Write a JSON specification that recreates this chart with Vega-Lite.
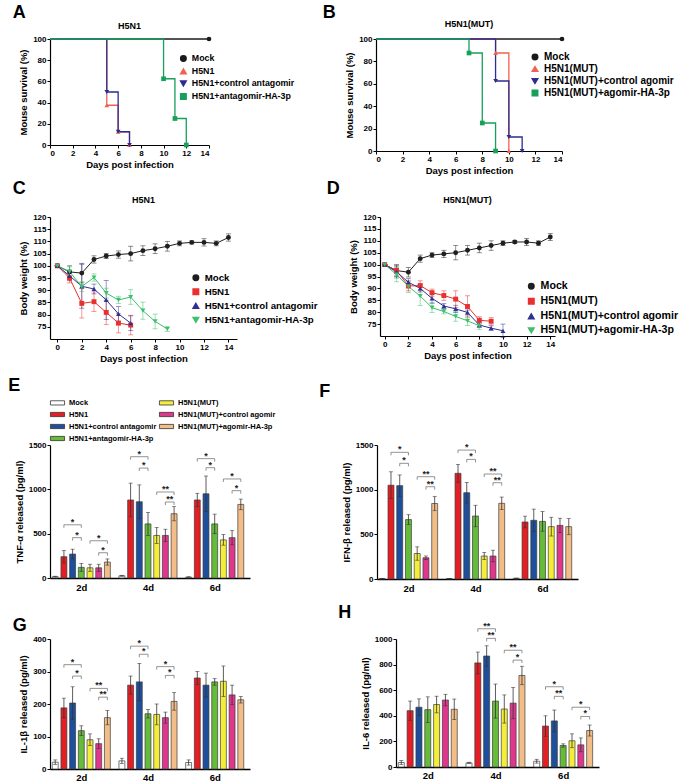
{
"$schema":"https://vega.github.io/schema/vega-lite/v6.json",
"padding":{"left":8,"top":4,"right":2,"bottom":0},
"config":{
 "font":"Liberation Sans",
 "view":{"stroke":null},
 "scale":{"nice":false},
 "axis":{"labelFontWeight":"bold","labelFontSize":8,"titleFontSize":9.5,"titleFontWeight":"bold","domainColor":"#000","tickColor":"#000","labelColor":"#000","titleColor":"#000","grid":false,"domainWidth":1.2,"tickWidth":1,"tickSize":3,"labelPadding":1,"titlePadding":4,"labelOverlap":false,"format":"d"},
 "axisX":{"titlePadding":2},
 "legend":{"labelFontWeight":"bold","labelFontSize":9,"labelColor":"#000","labelFont":"Liberation Sans","symbolOpacity":1},
 "title":{"font":"Liberation Sans","fontWeight":"bold","fontSize":9,"color":"#000"}
},
"datasets":{
 "survA":[
  {"g":"Mock","d":0,"s":100},{"g":"Mock","d":14,"s":100},
  {"g":"H5N1","d":0,"s":100},{"g":"H5N1","d":5,"s":37.5},{"g":"H5N1","d":6,"s":12.5},{"g":"H5N1","d":7,"s":0},
  {"g":"H5N1+control antagomir","d":0,"s":100},{"g":"H5N1+control antagomir","d":5,"s":50},{"g":"H5N1+control antagomir","d":6,"s":12.5},{"g":"H5N1+control antagomir","d":7,"s":0},
  {"g":"H5N1+antagomir-HA-3p","d":0,"s":100},{"g":"H5N1+antagomir-HA-3p","d":10,"s":62.5},{"g":"H5N1+antagomir-HA-3p","d":11,"s":25},{"g":"H5N1+antagomir-HA-3p","d":12,"s":0}
 ],
 "survB":[
  {"g":"Mock","d":0,"s":100},{"g":"Mock","d":14,"s":100},
  {"g":"H5N1(MUT)","d":0,"s":100},{"g":"H5N1(MUT)","d":9,"s":87.5},{"g":"H5N1(MUT)","d":10,"s":0},
  {"g":"H5N1(MUT)+control agomir","d":0,"s":100},{"g":"H5N1(MUT)+control agomir","d":9,"s":62.5},{"g":"H5N1(MUT)+control agomir","d":10,"s":12.5},{"g":"H5N1(MUT)+control agomir","d":11,"s":0},
  {"g":"H5N1(MUT)+agomir-HA-3p","d":0,"s":100},{"g":"H5N1(MUT)+agomir-HA-3p","d":7,"s":87.5},{"g":"H5N1(MUT)+agomir-HA-3p","d":8,"s":25},{"g":"H5N1(MUT)+agomir-HA-3p","d":9,"s":0}
 ],
 "wC":[
  {"g":"Mock","d":0,"v":100,"e":0},{"g":"Mock","d":1,"v":97.5,"e":2.5},{"g":"Mock","d":2,"v":97,"e":4},{"g":"Mock","d":3,"v":102.6,"e":1.5},{"g":"Mock","d":4,"v":104,"e":1},{"g":"Mock","d":5,"v":104.6,"e":1.5},{"g":"Mock","d":6,"v":105,"e":3},{"g":"Mock","d":7,"v":106.2,"e":2},{"g":"Mock","d":8,"v":107,"e":2},{"g":"Mock","d":9,"v":108,"e":2},{"g":"Mock","d":10,"v":109.2,"e":1},{"g":"Mock","d":11,"v":109.6,"e":0.6},{"g":"Mock","d":12,"v":109.6,"e":1.5},{"g":"Mock","d":13,"v":109.2,"e":1},{"g":"Mock","d":14,"v":111.6,"e":1.5},
  {"g":"H5N1","d":0,"v":100,"e":0},{"g":"H5N1","d":1,"v":95,"e":2},{"g":"H5N1","d":2,"v":84.6,"e":6},{"g":"H5N1","d":3,"v":85.3,"e":4},{"g":"H5N1","d":4,"v":80.9,"e":5},{"g":"H5N1","d":5,"v":76.5,"e":4},{"g":"H5N1","d":6,"v":75.7,"e":4},
  {"g":"H5N1+control antagomir","d":0,"v":100,"e":0},{"g":"H5N1+control antagomir","d":1,"v":95.9,"e":2},{"g":"H5N1+control antagomir","d":2,"v":91.6,"e":9},{"g":"H5N1+control antagomir","d":3,"v":90.5,"e":2},{"g":"H5N1+control antagomir","d":4,"v":86,"e":8},{"g":"H5N1+control antagomir","d":5,"v":80.3,"e":3},{"g":"H5N1+control antagomir","d":6,"v":76.5,"e":3},
  {"g":"H5N1+antagomir-HA-3p","d":0,"v":100,"e":0},{"g":"H5N1+antagomir-HA-3p","d":1,"v":97.6,"e":2},{"g":"H5N1+antagomir-HA-3p","d":2,"v":91.5,"e":2},{"g":"H5N1+antagomir-HA-3p","d":3,"v":95.2,"e":1.5},{"g":"H5N1+antagomir-HA-3p","d":4,"v":88.8,"e":2},{"g":"H5N1+antagomir-HA-3p","d":5,"v":86,"e":1.5},{"g":"H5N1+antagomir-HA-3p","d":6,"v":87.2,"e":3},{"g":"H5N1+antagomir-HA-3p","d":7,"v":81.6,"e":3.5},{"g":"H5N1+antagomir-HA-3p","d":8,"v":77.2,"e":3},{"g":"H5N1+antagomir-HA-3p","d":9,"v":74.1,"e":1}
 ],
 "wD":[
  {"g":"Mock","d":0,"v":100,"e":0},{"g":"Mock","d":1,"v":97.5,"e":2.5},{"g":"Mock","d":2,"v":96.8,"e":2},{"g":"Mock","d":3,"v":102.5,"e":1.5},{"g":"Mock","d":4,"v":104,"e":1},{"g":"Mock","d":5,"v":104.5,"e":1.5},{"g":"Mock","d":6,"v":105,"e":3},{"g":"Mock","d":7,"v":106,"e":2},{"g":"Mock","d":8,"v":107,"e":2},{"g":"Mock","d":9,"v":108,"e":2},{"g":"Mock","d":10,"v":109,"e":1},{"g":"Mock","d":11,"v":109.5,"e":0.6},{"g":"Mock","d":12,"v":109.5,"e":1.5},{"g":"Mock","d":13,"v":109,"e":1},{"g":"Mock","d":14,"v":111.6,"e":1.5},
  {"g":"H5N1(MUT)","d":0,"v":100,"e":0},{"g":"H5N1(MUT)","d":1,"v":97.5,"e":2},{"g":"H5N1(MUT)","d":2,"v":91,"e":2},{"g":"H5N1(MUT)","d":3,"v":91.2,"e":2},{"g":"H5N1(MUT)","d":4,"v":88.2,"e":1.5},{"g":"H5N1(MUT)","d":5,"v":87,"e":2},{"g":"H5N1(MUT)","d":6,"v":85.5,"e":3.5},{"g":"H5N1(MUT)","d":7,"v":82.4,"e":4.5},{"g":"H5N1(MUT)","d":8,"v":76.6,"e":1.5},{"g":"H5N1(MUT)","d":9,"v":76.2,"e":1.5},
  {"g":"H5N1(MUT)+control agomir","d":0,"v":100,"e":0},{"g":"H5N1(MUT)+control agomir","d":1,"v":96.9,"e":2.5},{"g":"H5N1(MUT)+control agomir","d":2,"v":92.6,"e":1.5},{"g":"H5N1(MUT)+control agomir","d":3,"v":90,"e":1.5},{"g":"H5N1(MUT)+control agomir","d":4,"v":85.8,"e":2},{"g":"H5N1(MUT)+control agomir","d":5,"v":82.6,"e":1},{"g":"H5N1(MUT)+control agomir","d":6,"v":81.4,"e":1.5},{"g":"H5N1(MUT)+control agomir","d":7,"v":79.9,"e":1},{"g":"H5N1(MUT)+control agomir","d":8,"v":74.6,"e":1},{"g":"H5N1(MUT)+control agomir","d":9,"v":73.3,"e":1},{"g":"H5N1(MUT)+control agomir","d":10,"v":72.2,"e":2.8},
  {"g":"H5N1(MUT)+agomir-HA-3p","d":0,"v":100,"e":0},{"g":"H5N1(MUT)+agomir-HA-3p","d":1,"v":95.8,"e":3},{"g":"H5N1(MUT)+agomir-HA-3p","d":2,"v":90.8,"e":2.5},{"g":"H5N1(MUT)+agomir-HA-3p","d":3,"v":86.8,"e":4},{"g":"H5N1(MUT)+agomir-HA-3p","d":4,"v":81.9,"e":2},{"g":"H5N1(MUT)+agomir-HA-3p","d":5,"v":80.3,"e":1},{"g":"H5N1(MUT)+agomir-HA-3p","d":6,"v":78.2,"e":2},{"g":"H5N1(MUT)+agomir-HA-3p","d":7,"v":76.4,"e":2},{"g":"H5N1(MUT)+agomir-HA-3p","d":8,"v":74.3,"e":1.5}
 ],
 "bars":[
  {"p":"E","day":"2d","g":"Mock","v":15,"e":5},{"p":"E","day":"2d","g":"H5N1","v":240,"e":70},{"p":"E","day":"2d","g":"H5N1+control antagomir","v":270,"e":55},{"p":"E","day":"2d","g":"H5N1+antagomir-HA-3p","v":120,"e":45},{"p":"E","day":"2d","g":"H5N1(MUT)","v":115,"e":40},{"p":"E","day":"2d","g":"H5N1(MUT)+control agomir","v":115,"e":40},{"p":"E","day":"2d","g":"H5N1(MUT)+agomir-HA-3p","v":180,"e":35},
  {"p":"E","day":"4d","g":"Mock","v":25,"e":5},{"p":"E","day":"4d","g":"H5N1","v":880,"e":190},{"p":"E","day":"4d","g":"H5N1+control antagomir","v":860,"e":190},{"p":"E","day":"4d","g":"H5N1+antagomir-HA-3p","v":610,"e":130},{"p":"E","day":"4d","g":"H5N1(MUT)","v":480,"e":90},{"p":"E","day":"4d","g":"H5N1(MUT)+control agomir","v":480,"e":70},{"p":"E","day":"4d","g":"H5N1(MUT)+agomir-HA-3p","v":725,"e":80},
  {"p":"E","day":"6d","g":"Mock","v":10,"e":4},{"p":"E","day":"6d","g":"H5N1","v":880,"e":75},{"p":"E","day":"6d","g":"H5N1+control antagomir","v":950,"e":200},{"p":"E","day":"6d","g":"H5N1+antagomir-HA-3p","v":610,"e":110},{"p":"E","day":"6d","g":"H5N1(MUT)","v":430,"e":60},{"p":"E","day":"6d","g":"H5N1(MUT)+control agomir","v":455,"e":80},{"p":"E","day":"6d","g":"H5N1(MUT)+agomir-HA-3p","v":830,"e":60},
  {"p":"F","day":"2d","g":"Mock","v":4,"e":0},{"p":"F","day":"2d","g":"H5N1","v":1050,"e":150},{"p":"F","day":"2d","g":"H5N1+control antagomir","v":1045,"e":120},{"p":"F","day":"2d","g":"H5N1+antagomir-HA-3p","v":665,"e":55},{"p":"F","day":"2d","g":"H5N1(MUT)","v":285,"e":75},{"p":"F","day":"2d","g":"H5N1(MUT)+control agomir","v":238,"e":20},{"p":"F","day":"2d","g":"H5N1(MUT)+agomir-HA-3p","v":845,"e":80},
  {"p":"F","day":"4d","g":"Mock","v":4,"e":0},{"p":"F","day":"4d","g":"H5N1","v":1183,"e":100},{"p":"F","day":"4d","g":"H5N1+control antagomir","v":966,"e":115},{"p":"F","day":"4d","g":"H5N1+antagomir-HA-3p","v":705,"e":120},{"p":"F","day":"4d","g":"H5N1(MUT)","v":257,"e":40},{"p":"F","day":"4d","g":"H5N1(MUT)+control agomir","v":257,"e":65},{"p":"F","day":"4d","g":"H5N1(MUT)+agomir-HA-3p","v":847,"e":70},
  {"p":"F","day":"6d","g":"Mock","v":8,"e":2},{"p":"F","day":"6d","g":"H5N1","v":638,"e":65},{"p":"F","day":"6d","g":"H5N1+control antagomir","v":657,"e":125},{"p":"F","day":"6d","g":"H5N1+antagomir-HA-3p","v":645,"e":110},{"p":"F","day":"6d","g":"H5N1(MUT)","v":586,"e":105},{"p":"F","day":"6d","g":"H5N1(MUT)+control agomir","v":600,"e":80},{"p":"F","day":"6d","g":"H5N1(MUT)+agomir-HA-3p","v":586,"e":90},
  {"p":"G","day":"2d","g":"Mock","v":21,"e":7},{"p":"G","day":"2d","g":"H5N1","v":188,"e":30},{"p":"G","day":"2d","g":"H5N1+control antagomir","v":203,"e":50},{"p":"G","day":"2d","g":"H5N1+antagomir-HA-3p","v":118,"e":15},{"p":"G","day":"2d","g":"H5N1(MUT)","v":90,"e":18},{"p":"G","day":"2d","g":"H5N1(MUT)+control agomir","v":78,"e":15},{"p":"G","day":"2d","g":"H5N1(MUT)+agomir-HA-3p","v":158,"e":22},
  {"p":"G","day":"4d","g":"Mock","v":25,"e":8},{"p":"G","day":"4d","g":"H5N1","v":258,"e":28},{"p":"G","day":"4d","g":"H5N1+control antagomir","v":268,"e":57},{"p":"G","day":"4d","g":"H5N1+antagomir-HA-3p","v":170,"e":13},{"p":"G","day":"4d","g":"H5N1(MUT)","v":168,"e":32},{"p":"G","day":"4d","g":"H5N1(MUT)+control agomir","v":158,"e":17},{"p":"G","day":"4d","g":"H5N1(MUT)+agomir-HA-3p","v":208,"e":27},
  {"p":"G","day":"6d","g":"Mock","v":20,"e":8},{"p":"G","day":"6d","g":"H5N1","v":280,"e":20},{"p":"G","day":"6d","g":"H5N1+control antagomir","v":258,"e":37},{"p":"G","day":"6d","g":"H5N1+antagomir-HA-3p","v":268,"e":10},{"p":"G","day":"6d","g":"H5N1(MUT)","v":270,"e":47},{"p":"G","day":"6d","g":"H5N1(MUT)+control agomir","v":228,"e":30},{"p":"G","day":"6d","g":"H5N1(MUT)+agomir-HA-3p","v":213,"e":10},
  {"p":"H","day":"2d","g":"Mock","v":35,"e":15},{"p":"H","day":"2d","g":"H5N1","v":440,"e":75},{"p":"H","day":"2d","g":"H5N1+control antagomir","v":467,"e":65},{"p":"H","day":"2d","g":"H5N1+antagomir-HA-3p","v":448,"e":100},{"p":"H","day":"2d","g":"H5N1(MUT)","v":488,"e":65},{"p":"H","day":"2d","g":"H5N1(MUT)+control agomir","v":523,"e":45},{"p":"H","day":"2d","g":"H5N1(MUT)+agomir-HA-3p","v":451,"e":80},
  {"p":"H","day":"4d","g":"Mock","v":32,"e":5},{"p":"H","day":"4d","g":"H5N1","v":813,"e":85},{"p":"H","day":"4d","g":"H5N1+control antagomir","v":867,"e":80},{"p":"H","day":"4d","g":"H5N1+antagomir-HA-3p","v":515,"e":133},{"p":"H","day":"4d","g":"H5N1(MUT)","v":453,"e":110},{"p":"H","day":"4d","g":"H5N1(MUT)+control agomir","v":499,"e":122},{"p":"H","day":"4d","g":"H5N1(MUT)+agomir-HA-3p","v":715,"e":72},
  {"p":"H","day":"6d","g":"Mock","v":45,"e":15},{"p":"H","day":"6d","g":"H5N1","v":320,"e":80},{"p":"H","day":"6d","g":"H5N1+control antagomir","v":360,"e":85},{"p":"H","day":"6d","g":"H5N1+antagomir-HA-3p","v":168,"e":13},{"p":"H","day":"6d","g":"H5N1(MUT)","v":205,"e":54},{"p":"H","day":"6d","g":"H5N1(MUT)+control agomir","v":173,"e":54},{"p":"H","day":"6d","g":"H5N1(MUT)+agomir-HA-3p","v":285,"e":43}
 ],
 "brk":[
  {"p":"E","day":"2d","from":"H","to":"HA","y":600,"lab":"*"},{"p":"E","day":"2d","from":"HC","to":"HA","y":455,"lab":"*"},{"p":"E","day":"2d","from":"M","to":"MA","y":420,"lab":"*"},{"p":"E","day":"2d","from":"MC","to":"MA","y":285,"lab":"*"},
  {"p":"E","day":"4d","from":"H","to":"HA","y":1368,"lab":"*"},{"p":"E","day":"4d","from":"HC","to":"HA","y":1240,"lab":"*"},{"p":"E","day":"4d","from":"M","to":"MA","y":970,"lab":"**"},{"p":"E","day":"4d","from":"MC","to":"MA","y":857,"lab":"**"},
  {"p":"E","day":"6d","from":"H","to":"HA","y":1346,"lab":"*"},{"p":"E","day":"6d","from":"HC","to":"HA","y":1244,"lab":"*"},{"p":"E","day":"6d","from":"M","to":"MA","y":1117,"lab":"*"},{"p":"E","day":"6d","from":"MC","to":"MA","y":985,"lab":"*"},
  {"p":"F","day":"2d","from":"H","to":"HA","y":1418,"lab":"*"},{"p":"F","day":"2d","from":"HC","to":"HA","y":1295,"lab":"*"},{"p":"F","day":"2d","from":"M","to":"MA","y":1145,"lab":"**"},{"p":"F","day":"2d","from":"MC","to":"MA","y":1033,"lab":"**"},
  {"p":"F","day":"4d","from":"H","to":"HA","y":1443,"lab":"*"},{"p":"F","day":"4d","from":"HC","to":"HA","y":1339,"lab":"*"},{"p":"F","day":"4d","from":"M","to":"MA","y":1175,"lab":"**"},{"p":"F","day":"4d","from":"MC","to":"MA","y":1078,"lab":"**"},
  {"p":"G","day":"2d","from":"H","to":"HA","y":321,"lab":"*"},{"p":"G","day":"2d","from":"HC","to":"HA","y":286,"lab":"*"},{"p":"G","day":"2d","from":"M","to":"MA","y":248,"lab":"**"},{"p":"G","day":"2d","from":"MC","to":"MA","y":221,"lab":"**"},
  {"p":"G","day":"4d","from":"H","to":"HA","y":378,"lab":"*"},{"p":"G","day":"4d","from":"HC","to":"HA","y":353,"lab":"*"},{"p":"G","day":"4d","from":"M","to":"MA","y":315,"lab":"*"},{"p":"G","day":"4d","from":"MC","to":"MA","y":288,"lab":"*"},
  {"p":"H","day":"4d","from":"H","to":"HA","y":1080,"lab":"**"},{"p":"H","day":"4d","from":"HC","to":"HA","y":1005,"lab":"**"},{"p":"H","day":"4d","from":"M","to":"MA","y":912,"lab":"**"},{"p":"H","day":"4d","from":"MC","to":"MA","y":835,"lab":"*"},
  {"p":"H","day":"6d","from":"H","to":"HA","y":627,"lab":"*"},{"p":"H","day":"6d","from":"HC","to":"HA","y":552,"lab":"**"},{"p":"H","day":"6d","from":"M","to":"MA","y":467,"lab":"*"},{"p":"H","day":"6d","from":"MC","to":"MA","y":395,"lab":"*"}
 ]
},
"resolve":{"scale":{"color":"independent","shape":"independent"},"legend":{"color":"independent","shape":"independent"}},
"spacing":14,
"vconcat":[
{"resolve":{"scale":{"color":"independent","shape":"independent"},"legend":{"color":"independent","shape":"independent"}},"spacing":5,"vconcat":[
 {"resolve":{"scale":{"color":"independent","shape":"independent"},"legend":{"color":"independent","shape":"independent"}},"spacing":27,"hconcat":[
  {"resolve":{"scale":{"color":"independent","shape":"independent"},"legend":{"color":"independent","shape":"independent"}},"title":{"text":"A","anchor":"start","fontSize":18,"frame":"bounds","offset":0,"dx":-6},"vconcat":[
   {"width":159,"height":106,"title":{"text":"H5N1","offset":4},"data":{"name":"survA"},
    "layer":[
     {"mark":{"type":"line","interpolate":"step-after","strokeWidth":1.3},"encoding":{
      "x":{"field":"d","type":"quantitative","scale":{"domain":[0,14],"nice":false},"axis":{"values":[0,2,4,6,8,10,12,14],"tickCount":20,"title":"Days post infection","labelOverlap":false}},
      "y":{"field":"s","type":"quantitative","scale":{"domain":[0,100],"nice":false},"axis":{"values":[0,20,40,60,80,100],"tickCount":20,"title":"Mouse survival (%)","labelOverlap":false}},
      "color":{"field":"g","type":"nominal","scale":{"domain":["Mock","H5N1","H5N1+control antagomir","H5N1+antagomir-HA-3p"],"range":["#1a1a1a","#f2604f","#2b2d8f","#16a05a"]},"legend":{"title":null,"orient":"none","legendX":129,"legendY":15,"symbolSize":30,"rowPadding":1,"labelFontSize":8.8}}}},
     {"transform":[{"filter":"datum.d>0"}],"mark":{"type":"point","filled":true,"size":22,"opacity":1},"encoding":{
      "x":{"field":"d","type":"quantitative"},"y":{"field":"s","type":"quantitative"},
      "color":{"field":"g","type":"nominal","scale":{"domain":["Mock","H5N1","H5N1+control antagomir","H5N1+antagomir-HA-3p"],"range":["#1a1a1a","#f2604f","#2b2d8f","#16a05a"]},"legend":{"title":null,"orient":"none","legendX":129,"legendY":15,"symbolSize":30,"rowPadding":1,"labelFontSize":8.8}},
      "shape":{"field":"g","type":"nominal","scale":{"domain":["Mock","H5N1","H5N1+control antagomir","H5N1+antagomir-HA-3p"],"range":["circle","triangle-up","triangle-down","square"]},"legend":{"title":null,"orient":"none","legendX":129,"legendY":15,"symbolSize":30,"rowPadding":1,"labelFontSize":8.8}}}}
    ]}
  ]},
  {"resolve":{"scale":{"color":"independent","shape":"independent"},"legend":{"color":"independent","shape":"independent"}},"title":{"text":"B","anchor":"start","fontSize":18,"frame":"bounds","offset":-2,"dx":-22},"vconcat":[
   {"width":186,"height":112,"title":{"text":"H5N1(MUT)","offset":6},"data":{"name":"survB"},
    "layer":[
     {"mark":{"type":"line","interpolate":"step-after","strokeWidth":1.3},"encoding":{
      "x":{"field":"d","type":"quantitative","scale":{"domain":[0,14],"nice":false},"axis":{"values":[0,2,4,6,8,10,12,14],"tickCount":20,"title":"Days post infection","labelOverlap":false}},
      "y":{"field":"s","type":"quantitative","scale":{"domain":[0,100],"nice":false},"axis":{"values":[0,20,40,60,80,100],"tickCount":20,"title":"Mouse survival (%)","labelOverlap":false}},
      "color":{"field":"g","type":"nominal","scale":{"domain":["Mock","H5N1(MUT)","H5N1(MUT)+control agomir","H5N1(MUT)+agomir-HA-3p"],"range":["#1a1a1a","#f2604f","#2b2d8f","#16a05a"]},"legend":{"title":null,"orient":"none","legendX":154,"legendY":13,"symbolSize":30,"rowPadding":0,"labelFontSize":10}}}},
     {"transform":[{"filter":"datum.d>0"}],"mark":{"type":"point","filled":true,"size":22,"opacity":1},"encoding":{
      "x":{"field":"d","type":"quantitative"},"y":{"field":"s","type":"quantitative"},
      "color":{"field":"g","type":"nominal","scale":{"domain":["Mock","H5N1(MUT)","H5N1(MUT)+control agomir","H5N1(MUT)+agomir-HA-3p"],"range":["#1a1a1a","#f2604f","#2b2d8f","#16a05a"]},"legend":{"title":null,"orient":"none","legendX":154,"legendY":13,"symbolSize":30,"rowPadding":0,"labelFontSize":10}},
      "shape":{"field":"g","type":"nominal","scale":{"domain":["Mock","H5N1(MUT)","H5N1(MUT)+control agomir","H5N1(MUT)+agomir-HA-3p"],"range":["circle","triangle-up","triangle-down","square"]},"legend":{"title":null,"orient":"none","legendX":154,"legendY":13,"symbolSize":30,"rowPadding":0,"labelFontSize":10}}}}
    ]}
  ]}
 ]},
 {"resolve":{"scale":{"color":"independent","shape":"independent"},"legend":{"color":"independent","shape":"independent"}},"spacing":8,"hconcat":[
  {"resolve":{"scale":{"color":"independent","shape":"independent"},"legend":{"color":"independent","shape":"independent"}},"title":{"text":"C","anchor":"start","fontSize":18,"frame":"bounds","offset":-2,"dx":-6},"vconcat":[
   {"width":187,"height":122,"title":{"text":"H5N1","offset":8},"data":{"name":"wC"},
    "transform":[{"calculate":"datum.v-datum.e","as":"lo"},{"calculate":"datum.v+datum.e","as":"hi"}],
    "layer":[
     {"mark":{"type":"rule","strokeWidth":0.9,"opacity":0.55},"encoding":{
      "x":{"field":"d","type":"quantitative","scale":{"domain":[-0.6,14.7],"nice":false},"axis":{"values":[0,2,4,6,8,10,12,14],"tickCount":20,"title":"Days post infection","labelOverlap":false}},
      "y":{"field":"lo","type":"quantitative","scale":{"domain":[70,120],"nice":false},"axis":{"values":[75,80,85,90,95,100,105,110,115,120],"tickCount":20,"title":"Body weight (%)","labelOverlap":false}},
      "y2":{"field":"hi"},
      "color":{"field":"g","type":"nominal","scale":{"domain":["Mock","H5N1","H5N1+control antagomir","H5N1+antagomir-HA-3p"],"range":["#1f1f1f","#e8302e","#2e3192","#3cc06c"]},"legend":{"title":null,"orient":"none","legendX":141,"legendY":56,"symbolSize":30,"rowPadding":2,"labelFontSize":9.7}}}},
     {"mark":{"type":"tick","orient":"horizontal","size":5,"thickness":0.9,"opacity":0.55},"encoding":{"x":{"field":"d","type":"quantitative"},"y":{"field":"hi","type":"quantitative"},"color":{"field":"g","type":"nominal"}}},
     {"mark":{"type":"tick","orient":"horizontal","size":5,"thickness":0.9,"opacity":0.55},"encoding":{"x":{"field":"d","type":"quantitative"},"y":{"field":"lo","type":"quantitative"},"color":{"field":"g","type":"nominal"}}},
     {"mark":{"type":"line","strokeWidth":1},"encoding":{"x":{"field":"d","type":"quantitative"},"y":{"field":"v","type":"quantitative"},"color":{"field":"g","type":"nominal"}}},
     {"mark":{"type":"point","filled":true,"size":24,"opacity":1},"encoding":{"x":{"field":"d","type":"quantitative"},"y":{"field":"v","type":"quantitative"},"color":{"field":"g","type":"nominal"},
      "shape":{"field":"g","type":"nominal","scale":{"domain":["Mock","H5N1","H5N1+control antagomir","H5N1+antagomir-HA-3p"],"range":["circle","square","triangle-up","triangle-down"]},"legend":{"title":null,"orient":"none","legendX":141,"legendY":56,"symbolSize":30,"rowPadding":2,"labelFontSize":9.7}}}}
    ]}
  ]},
  {"resolve":{"scale":{"color":"independent","shape":"independent"},"legend":{"color":"independent","shape":"independent"}},"title":{"text":"D","anchor":"start","fontSize":18,"frame":"bounds","offset":-2,"dx":-22},"vconcat":[
   {"width":175,"height":119,"title":{"text":"H5N1(MUT)","offset":8},"data":{"name":"wD"},
    "transform":[{"calculate":"datum.v-datum.e","as":"lo"},{"calculate":"datum.v+datum.e","as":"hi"}],
    "layer":[
     {"mark":{"type":"rule","strokeWidth":0.9,"opacity":0.55},"encoding":{
      "x":{"field":"d","type":"quantitative","scale":{"domain":[-0.4,14.4],"nice":false},"axis":{"values":[0,2,4,6,8,10,12,14],"tickCount":20,"title":"Days post infection","labelOverlap":false}},
      "y":{"field":"lo","type":"quantitative","scale":{"domain":[70,120],"nice":false},"axis":{"values":[75,80,85,90,95,100,105,110,115,120],"tickCount":20,"title":"Body weight (%)","labelOverlap":false}},
      "y2":{"field":"hi"},
      "color":{"field":"g","type":"nominal","scale":{"domain":["Mock","H5N1(MUT)","H5N1(MUT)+control agomir","H5N1(MUT)+agomir-HA-3p"],"range":["#1f1f1f","#e8302e","#2e3192","#3cc06c"]},"legend":{"title":null,"orient":"none","legendX":146,"legendY":64,"symbolSize":30,"rowPadding":2,"labelFontSize":10.6}}}},
     {"mark":{"type":"tick","orient":"horizontal","size":5,"thickness":0.9,"opacity":0.55},"encoding":{"x":{"field":"d","type":"quantitative"},"y":{"field":"hi","type":"quantitative"},"color":{"field":"g","type":"nominal"}}},
     {"mark":{"type":"tick","orient":"horizontal","size":5,"thickness":0.9,"opacity":0.55},"encoding":{"x":{"field":"d","type":"quantitative"},"y":{"field":"lo","type":"quantitative"},"color":{"field":"g","type":"nominal"}}},
     {"mark":{"type":"line","strokeWidth":1},"encoding":{"x":{"field":"d","type":"quantitative"},"y":{"field":"v","type":"quantitative"},"color":{"field":"g","type":"nominal"}}},
     {"mark":{"type":"point","filled":true,"size":24,"opacity":1},"encoding":{"x":{"field":"d","type":"quantitative"},"y":{"field":"v","type":"quantitative"},"color":{"field":"g","type":"nominal"},
      "shape":{"field":"g","type":"nominal","scale":{"domain":["Mock","H5N1(MUT)","H5N1(MUT)+control agomir","H5N1(MUT)+agomir-HA-3p"],"range":["circle","square","triangle-up","triangle-down"]},"legend":{"title":null,"orient":"none","legendX":146,"legendY":64,"symbolSize":30,"rowPadding":2,"labelFontSize":10.6}}}}
    ]}
  ]}
 ]}
]},
{"resolve":{"scale":{"color":"independent","shape":"independent"},"legend":{"color":"independent","shape":"independent"}},"spacing":10,"vconcat":[
 {"resolve":{"scale":{"color":"independent","shape":"independent"},"legend":{"color":"independent","shape":"independent"}},"spacing":43,"hconcat":[
  {"resolve":{"scale":{"color":"independent","shape":"independent"},"legend":{"color":"independent","shape":"independent"}},"title":{"text":"E","anchor":"start","fontSize":18,"frame":"bounds","offset":0,"dx":-6},"vconcat":[
   {"width":200,"height":133,
    "layer":[
     {"data":{"name":"bars"},"transform":[{"filter":"datum.p=='E'"},{"calculate":"indexof(['2d','4d','6d'],datum.day)*7.67+indexof(['Mock','H5N1','H5N1+control antagomir','H5N1+antagomir-HA-3p','H5N1(MUT)','H5N1(MUT)+control agomir','H5N1(MUT)+agomir-HA-3p'],datum.g)","as":"pos"},{"calculate":"datum.pos-0.34","as":"xa"},{"calculate":"datum.pos+0.34","as":"xb"},{"calculate":"datum.v-datum.e","as":"lo"},{"calculate":"datum.v+datum.e","as":"hi"}],
      "layer":[
       {"mark":{"type":"rect","stroke":"#3c3c3c","strokeWidth":0.7},"encoding":{
        "x":{"field":"xa","type":"quantitative","scale":{"domain":[-0.6,22.4],"nice":false},"axis":{"values":[3,10.67,18.34],"tickCount":20,"labelExpr":"datum.value<6?'2d':datum.value<14?'4d':'6d'","ticks":false,"title":null,"labelFontSize":9.5,"labelPadding":4,"domainWidth":1.5,"labelOverlap":false}},
        "x2":{"field":"xb"},
        "y":{"field":"v","type":"quantitative","scale":{"domain":[0,1500],"nice":false},"axis":{"values":[0,500,1000,1500],"tickCount":20,"title":"TNF-α  released (pg/ml)","labelOverlap":false}},
        "y2":{"datum":0},
        "color":{"field":"g","type":"nominal","scale":{"domain":["Mock","H5N1","H5N1+control antagomir","H5N1+antagomir-HA-3p","H5N1(MUT)","H5N1(MUT)+control agomir","H5N1(MUT)+agomir-HA-3p"],"range":["#ffffff","#e31e24","#1d4f9c","#66bb3a","#f4ee3a","#e0368c","#f3bd87"]},
         "legend":{"title":null,"orient":"none","legendX":0,"legendY":-50,"columns":2,"columnPadding":0,"rowPadding":0,"symbolType":"M-1,-0.3H1V0.3H-1Z","symbolSize":200,"symbolStrokeColor":"#333","symbolStrokeWidth":0.8,"labelFontSize":7.5}}}},
       {"mark":{"type":"rule","color":"#333","strokeWidth":0.8},"encoding":{"x":{"field":"pos","type":"quantitative"},"y":{"field":"lo","type":"quantitative"},"y2":{"field":"hi"}}},
       {"mark":{"type":"tick","orient":"horizontal","color":"#333","size":4,"thickness":0.8},"encoding":{"x":{"field":"pos","type":"quantitative"},"y":{"field":"hi","type":"quantitative"}}},
       {"mark":{"type":"tick","orient":"horizontal","color":"#333","size":4,"thickness":0.8},"encoding":{"x":{"field":"pos","type":"quantitative"},"y":{"field":"lo","type":"quantitative"}}}
      ]},
     {"data":{"name":"brk"},"transform":[{"filter":"datum.p=='E'"},{"calculate":"indexof(['2d','4d','6d'],datum.day)*7.67+indexof(['Mock','H','HC','HA','M','MC','MA'],datum.from)","as":"pf"},{"calculate":"indexof(['2d','4d','6d'],datum.day)*7.67+indexof(['Mock','H','HC','HA','M','MC','MA'],datum.to)","as":"pt"},{"calculate":"(datum.pf+datum.pt)/2","as":"pm"}],
      "layer":[
       {"mark":{"type":"rule","color":"#666","strokeWidth":0.7},"encoding":{"x":{"field":"pf","type":"quantitative"},"x2":{"field":"pt"},"y":{"field":"y","type":"quantitative"}}},
       {"mark":{"type":"point","shape":"M0,0L0,1","size":36,"stroke":"#666","strokeWidth":0.7,"filled":false,"opacity":1},"encoding":{"x":{"field":"pf","type":"quantitative"},"y":{"field":"y","type":"quantitative"}}},
       {"mark":{"type":"point","shape":"M0,0L0,1","size":36,"stroke":"#666","strokeWidth":0.7,"filled":false,"opacity":1},"encoding":{"x":{"field":"pt","type":"quantitative"},"y":{"field":"y","type":"quantitative"}}},
       {"mark":{"type":"text","baseline":"bottom","fontSize":9,"fontWeight":"bold","dy":2,"color":"#222"},"encoding":{"x":{"field":"pm","type":"quantitative"},"y":{"field":"y","type":"quantitative"},"text":{"field":"lab"}}}
      ]}
    ]}
  ]},
  {"resolve":{"scale":{"color":"independent","shape":"independent"},"legend":{"color":"independent","shape":"independent"}},"title":{"text":"F","anchor":"start","fontSize":18,"frame":"bounds","offset":40,"dx":-22},"vconcat":[
   {"width":201,"height":134,
    "layer":[
     {"data":{"name":"bars"},"transform":[{"filter":"datum.p=='F'"},{"calculate":"indexof(['2d','4d','6d'],datum.day)*7.67+indexof(['Mock','H5N1','H5N1+control antagomir','H5N1+antagomir-HA-3p','H5N1(MUT)','H5N1(MUT)+control agomir','H5N1(MUT)+agomir-HA-3p'],datum.g)","as":"pos"},{"calculate":"datum.pos-0.34","as":"xa"},{"calculate":"datum.pos+0.34","as":"xb"},{"calculate":"datum.v-datum.e","as":"lo"},{"calculate":"datum.v+datum.e","as":"hi"}],
      "layer":[
       {"mark":{"type":"rect","stroke":"#3c3c3c","strokeWidth":0.7},"encoding":{
        "x":{"field":"xa","type":"quantitative","scale":{"domain":[-0.6,22.4],"nice":false},"axis":{"values":[3,10.67,18.34],"tickCount":20,"labelExpr":"datum.value<6?'2d':datum.value<14?'4d':'6d'","ticks":false,"title":null,"labelFontSize":9.5,"labelPadding":4,"domainWidth":1.5,"labelOverlap":false}},
        "x2":{"field":"xb"},
        "y":{"field":"v","type":"quantitative","scale":{"domain":[0,1500],"nice":false},"axis":{"values":[0,500,1000,1500],"tickCount":20,"title":"IFN-β  released (pg/ml)","labelOverlap":false}},
        "y2":{"datum":0},
        "color":{"field":"g","type":"nominal","scale":{"domain":["Mock","H5N1","H5N1+control antagomir","H5N1+antagomir-HA-3p","H5N1(MUT)","H5N1(MUT)+control agomir","H5N1(MUT)+agomir-HA-3p"],"range":["#ffffff","#e31e24","#1d4f9c","#66bb3a","#f4ee3a","#e0368c","#f3bd87"]},"legend":null}}},
       {"mark":{"type":"rule","color":"#333","strokeWidth":0.8},"encoding":{"x":{"field":"pos","type":"quantitative"},"y":{"field":"lo","type":"quantitative"},"y2":{"field":"hi"}}},
       {"mark":{"type":"tick","orient":"horizontal","color":"#333","size":4,"thickness":0.8},"encoding":{"x":{"field":"pos","type":"quantitative"},"y":{"field":"hi","type":"quantitative"}}},
       {"mark":{"type":"tick","orient":"horizontal","color":"#333","size":4,"thickness":0.8},"encoding":{"x":{"field":"pos","type":"quantitative"},"y":{"field":"lo","type":"quantitative"}}}
      ]},
     {"data":{"name":"brk"},"transform":[{"filter":"datum.p=='F'"},{"calculate":"indexof(['2d','4d','6d'],datum.day)*7.67+indexof(['Mock','H','HC','HA','M','MC','MA'],datum.from)","as":"pf"},{"calculate":"indexof(['2d','4d','6d'],datum.day)*7.67+indexof(['Mock','H','HC','HA','M','MC','MA'],datum.to)","as":"pt"},{"calculate":"(datum.pf+datum.pt)/2","as":"pm"}],
      "layer":[
       {"mark":{"type":"rule","color":"#666","strokeWidth":0.7},"encoding":{"x":{"field":"pf","type":"quantitative"},"x2":{"field":"pt"},"y":{"field":"y","type":"quantitative"}}},
       {"mark":{"type":"point","shape":"M0,0L0,1","size":36,"stroke":"#666","strokeWidth":0.7,"filled":false,"opacity":1},"encoding":{"x":{"field":"pf","type":"quantitative"},"y":{"field":"y","type":"quantitative"}}},
       {"mark":{"type":"point","shape":"M0,0L0,1","size":36,"stroke":"#666","strokeWidth":0.7,"filled":false,"opacity":1},"encoding":{"x":{"field":"pt","type":"quantitative"},"y":{"field":"y","type":"quantitative"}}},
       {"mark":{"type":"text","baseline":"bottom","fontSize":9,"fontWeight":"bold","dy":2,"color":"#222"},"encoding":{"x":{"field":"pm","type":"quantitative"},"y":{"field":"y","type":"quantitative"},"text":{"field":"lab"}}}
      ]}
    ]}
  ]}
 ]},
 {"resolve":{"scale":{"color":"independent","shape":"independent"},"legend":{"color":"independent","shape":"independent"}},"spacing":88,"hconcat":[
  {"resolve":{"scale":{"color":"independent","shape":"independent"},"legend":{"color":"independent","shape":"independent"}},"title":{"text":"G","anchor":"start","fontSize":18,"frame":"bounds","offset":0,"dx":-6},"vconcat":[
   {"width":200,"height":130,
    "layer":[
     {"data":{"name":"bars"},"transform":[{"filter":"datum.p=='G'"},{"calculate":"indexof(['2d','4d','6d'],datum.day)*7.67+indexof(['Mock','H5N1','H5N1+control antagomir','H5N1+antagomir-HA-3p','H5N1(MUT)','H5N1(MUT)+control agomir','H5N1(MUT)+agomir-HA-3p'],datum.g)","as":"pos"},{"calculate":"datum.pos-0.34","as":"xa"},{"calculate":"datum.pos+0.34","as":"xb"},{"calculate":"datum.v-datum.e","as":"lo"},{"calculate":"datum.v+datum.e","as":"hi"}],
      "layer":[
       {"mark":{"type":"rect","stroke":"#3c3c3c","strokeWidth":0.7},"encoding":{
        "x":{"field":"xa","type":"quantitative","scale":{"domain":[-0.6,22.4],"nice":false},"axis":{"values":[3,10.67,18.34],"tickCount":20,"labelExpr":"datum.value<6?'2d':datum.value<14?'4d':'6d'","ticks":false,"title":null,"labelFontSize":9.5,"labelPadding":3,"domainWidth":1.5,"labelOverlap":false}},
        "x2":{"field":"xb"},
        "y":{"field":"v","type":"quantitative","scale":{"domain":[0,400],"nice":false},"axis":{"values":[0,100,200,300,400],"tickCount":20,"title":"IL-1β  released (pg/ml)","labelOverlap":false}},
        "y2":{"datum":0},
        "color":{"field":"g","type":"nominal","scale":{"domain":["Mock","H5N1","H5N1+control antagomir","H5N1+antagomir-HA-3p","H5N1(MUT)","H5N1(MUT)+control agomir","H5N1(MUT)+agomir-HA-3p"],"range":["#ffffff","#e31e24","#1d4f9c","#66bb3a","#f4ee3a","#e0368c","#f3bd87"]},"legend":null}}},
       {"mark":{"type":"rule","color":"#333","strokeWidth":0.8},"encoding":{"x":{"field":"pos","type":"quantitative"},"y":{"field":"lo","type":"quantitative"},"y2":{"field":"hi"}}},
       {"mark":{"type":"tick","orient":"horizontal","color":"#333","size":4,"thickness":0.8},"encoding":{"x":{"field":"pos","type":"quantitative"},"y":{"field":"hi","type":"quantitative"}}},
       {"mark":{"type":"tick","orient":"horizontal","color":"#333","size":4,"thickness":0.8},"encoding":{"x":{"field":"pos","type":"quantitative"},"y":{"field":"lo","type":"quantitative"}}}
      ]},
     {"data":{"name":"brk"},"transform":[{"filter":"datum.p=='G'"},{"calculate":"indexof(['2d','4d','6d'],datum.day)*7.67+indexof(['Mock','H','HC','HA','M','MC','MA'],datum.from)","as":"pf"},{"calculate":"indexof(['2d','4d','6d'],datum.day)*7.67+indexof(['Mock','H','HC','HA','M','MC','MA'],datum.to)","as":"pt"},{"calculate":"(datum.pf+datum.pt)/2","as":"pm"}],
      "layer":[
       {"mark":{"type":"rule","color":"#666","strokeWidth":0.7},"encoding":{"x":{"field":"pf","type":"quantitative"},"x2":{"field":"pt"},"y":{"field":"y","type":"quantitative"}}},
       {"mark":{"type":"point","shape":"M0,0L0,1","size":36,"stroke":"#666","strokeWidth":0.7,"filled":false,"opacity":1},"encoding":{"x":{"field":"pf","type":"quantitative"},"y":{"field":"y","type":"quantitative"}}},
       {"mark":{"type":"point","shape":"M0,0L0,1","size":36,"stroke":"#666","strokeWidth":0.7,"filled":false,"opacity":1},"encoding":{"x":{"field":"pt","type":"quantitative"},"y":{"field":"y","type":"quantitative"}}},
       {"mark":{"type":"text","baseline":"bottom","fontSize":9,"fontWeight":"bold","dy":2,"color":"#222"},"encoding":{"x":{"field":"pm","type":"quantitative"},"y":{"field":"y","type":"quantitative"},"text":{"field":"lab"}}}
      ]}
    ]}
  ]},
  {"resolve":{"scale":{"color":"independent","shape":"independent"},"legend":{"color":"independent","shape":"independent"}},"title":{"text":"H","anchor":"start","fontSize":18,"frame":"bounds","offset":0,"dx":-22},"vconcat":[
   {"width":203,"height":128,
    "layer":[
     {"data":{"name":"bars"},"transform":[{"filter":"datum.p=='H'"},{"calculate":"indexof(['2d','4d','6d'],datum.day)*7.67+indexof(['Mock','H5N1','H5N1+control antagomir','H5N1+antagomir-HA-3p','H5N1(MUT)','H5N1(MUT)+control agomir','H5N1(MUT)+agomir-HA-3p'],datum.g)","as":"pos"},{"calculate":"datum.pos-0.34","as":"xa"},{"calculate":"datum.pos+0.34","as":"xb"},{"calculate":"datum.v-datum.e","as":"lo"},{"calculate":"datum.v+datum.e","as":"hi"}],
      "layer":[
       {"mark":{"type":"rect","stroke":"#3c3c3c","strokeWidth":0.7},"encoding":{
        "x":{"field":"xa","type":"quantitative","scale":{"domain":[-0.6,22.4],"nice":false},"axis":{"values":[3,10.67,18.34],"tickCount":20,"labelExpr":"datum.value<6?'2d':datum.value<14?'4d':'6d'","ticks":false,"title":null,"labelFontSize":9.5,"labelPadding":3,"domainWidth":1.5,"labelOverlap":false}},
        "x2":{"field":"xb"},
        "y":{"field":"v","type":"quantitative","scale":{"domain":[0,1000],"nice":false},"axis":{"values":[0,200,400,600,800,1000],"tickCount":20,"title":"IL-6 released (pg/ml)","labelOverlap":false}},
        "y2":{"datum":0},
        "color":{"field":"g","type":"nominal","scale":{"domain":["Mock","H5N1","H5N1+control antagomir","H5N1+antagomir-HA-3p","H5N1(MUT)","H5N1(MUT)+control agomir","H5N1(MUT)+agomir-HA-3p"],"range":["#ffffff","#e31e24","#1d4f9c","#66bb3a","#f4ee3a","#e0368c","#f3bd87"]},"legend":null}}},
       {"mark":{"type":"rule","color":"#333","strokeWidth":0.8},"encoding":{"x":{"field":"pos","type":"quantitative"},"y":{"field":"lo","type":"quantitative"},"y2":{"field":"hi"}}},
       {"mark":{"type":"tick","orient":"horizontal","color":"#333","size":4,"thickness":0.8},"encoding":{"x":{"field":"pos","type":"quantitative"},"y":{"field":"hi","type":"quantitative"}}},
       {"mark":{"type":"tick","orient":"horizontal","color":"#333","size":4,"thickness":0.8},"encoding":{"x":{"field":"pos","type":"quantitative"},"y":{"field":"lo","type":"quantitative"}}}
      ]},
     {"data":{"name":"brk"},"transform":[{"filter":"datum.p=='H'"},{"calculate":"indexof(['2d','4d','6d'],datum.day)*7.67+indexof(['Mock','H','HC','HA','M','MC','MA'],datum.from)","as":"pf"},{"calculate":"indexof(['2d','4d','6d'],datum.day)*7.67+indexof(['Mock','H','HC','HA','M','MC','MA'],datum.to)","as":"pt"},{"calculate":"(datum.pf+datum.pt)/2","as":"pm"}],
      "layer":[
       {"mark":{"type":"rule","color":"#666","strokeWidth":0.7},"encoding":{"x":{"field":"pf","type":"quantitative"},"x2":{"field":"pt"},"y":{"field":"y","type":"quantitative"}}},
       {"mark":{"type":"point","shape":"M0,0L0,1","size":36,"stroke":"#666","strokeWidth":0.7,"filled":false,"opacity":1},"encoding":{"x":{"field":"pf","type":"quantitative"},"y":{"field":"y","type":"quantitative"}}},
       {"mark":{"type":"point","shape":"M0,0L0,1","size":36,"stroke":"#666","strokeWidth":0.7,"filled":false,"opacity":1},"encoding":{"x":{"field":"pt","type":"quantitative"},"y":{"field":"y","type":"quantitative"}}},
       {"mark":{"type":"text","baseline":"bottom","fontSize":9,"fontWeight":"bold","dy":2,"color":"#222"},"encoding":{"x":{"field":"pm","type":"quantitative"},"y":{"field":"y","type":"quantitative"},"text":{"field":"lab"}}}
      ]}
    ]}
  ]}
 ]}
]}
]
}
